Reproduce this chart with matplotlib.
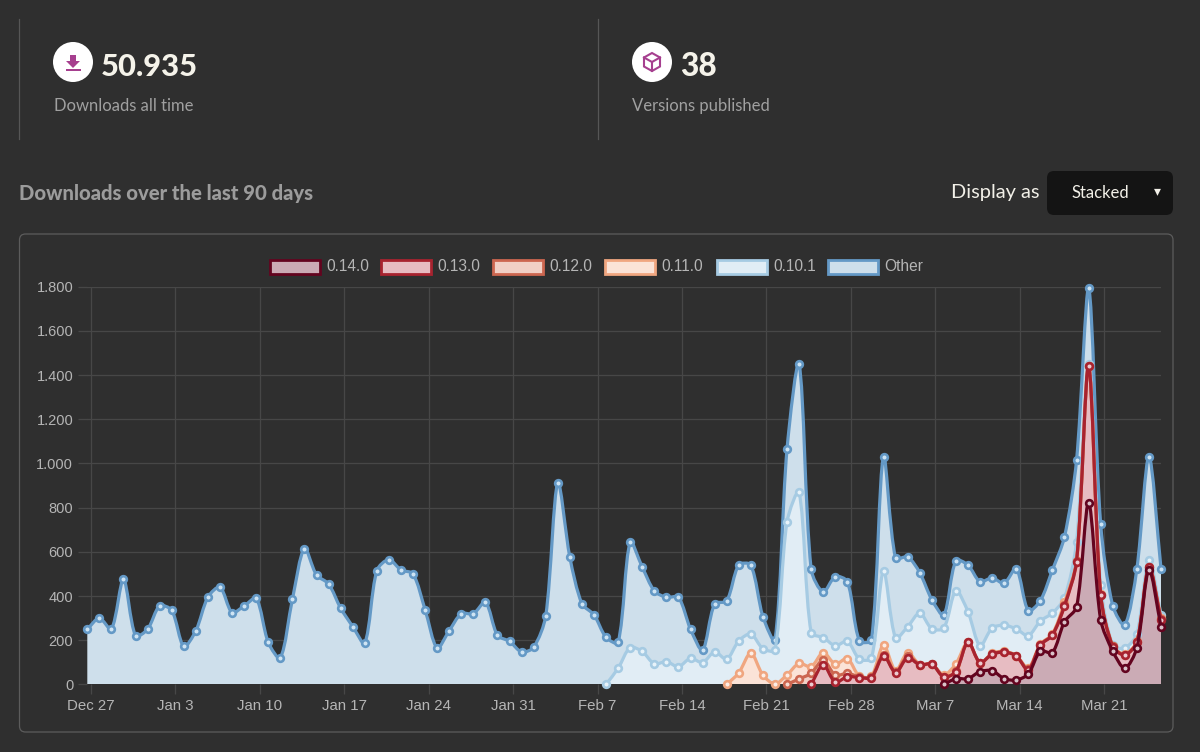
import numpy as np
import pandas as pd
import matplotlib
matplotlib.use('Agg')
import matplotlib.pyplot as plt
import matplotlib.dates as mdates
from matplotlib.path import Path
from matplotlib.patches import PathPatch, Rectangle, Circle, FancyBboxPatch, Polygon

nan = np.nan

# stacked levels, one list per version (nan = not published yet)
level_other = [250, 300, 250, 475, 220, 250, 355, 335, 172, 243, 395, 440, 325, 355, 390,
               190, 120, 385, 615, 495, 455, 345, 262, 187, 515, 565, 518, 500, 338, 165,
               243, 320, 320, 372, 222, 195, 147, 168, 310, 912, 575, 365, 315, 213, 190,
               644, 531, 423, 394, 394, 250, 155, 364, 378, 540, 540, 307, 201, 1065, 1450,
               522, 418, 488, 465, 198, 201, 1030, 571, 577, 506, 384, 314, 560, 540, 465,
               482, 458, 524, 334, 379, 518, 668, 1015, 1795, 725, 356, 269, 524, 1030, 524]
level_0101 = [nan] * 43 + [0, 73, 167, 149, 93, 103, 80, 118, 99, 147, 114, 197, 228, 162, 156,
                           736, 869, 234, 212, 175, 195, 115, 119, 512, 210, 261, 323, 252, 255,
                           424, 329, 175, 255, 268, 251, 221, 287, 323, 391, 646, 1450, 450, 178,
                           165, 228, 563, 315]
level_0110 = [nan] * 53 + [0, 52, 142, 42, 2, 43, 95, 80, 144, 92, 117, 37, 37, 178, 62, 144, 90,
                           92, 43, 93, 192, 98, 140, 150, 130, 75, 182, 228, 372, 560, 1440, 408,
                           175, 138, 195, 533, 300]
level_0120 = [nan] * 58 + [0, 25, 50, 110, 42, 50, 35, 35, 135, 55, 128, 90, 92, 35, 60, 192, 98,
                           138, 148, 130, 68, 180, 225, 360, 558, 1440, 406, 173, 135, 192, 531, 295]
level_0130 = [nan] * 60 + [0, 88, 10, 35, 31, 31, 129, 53, 121, 88, 92, 33, 58, 192, 98, 137, 146,
                           129, 65, 178, 223, 355, 556, 1440, 406, 171, 133, 192, 531, 292]
level_0140 = [nan] * 71 + [0, 26, 26, 58, 62, 26, 20, 47, 151, 144, 284, 350, 821, 292, 151, 73,
                           166, 518, 261]

versions = ['0.14.0', '0.13.0', '0.12.0', '0.11.0', '0.10.1', 'Other']
levels = [level_0140, level_0130, level_0120, level_0110, level_0101, level_other]
line_colors = ['#63041f', '#a8232f', '#cc6650', '#f0a680', '#a6cbe3', '#6499c6']
fill_colors = ['#cbabb5', '#e7bcc2', '#f1d0c6', '#fbe3d7', '#e1edf5', '#cedfeb']
dot_colors = ['#d9c3ca', '#ecccd1', '#f5dcd4', '#fdeee6', '#e8f3fa', '#cfe4f3']

y_ticks = list(range(0, 2000, 200))
y_labels = ['0', '200', '400', '600', '800', '1.000', '1.200', '1.400', '1.600', '1.800']
x_labels = ['Dec 27', 'Jan 3', 'Jan 10', 'Jan 17', 'Jan 24', 'Jan 31', 'Feb 7',
            'Feb 14', 'Feb 21', 'Feb 28', 'Mar 7', 'Mar 14', 'Mar 21']

BG = '#2f2f2f'
GRID = '#474747'
W, H = 1200, 752

dates = pd.date_range('2021-12-26 17:00', periods=90, freq='D')
x_num = mdates.date2num(dates)
x_ticks = mdates.date2num(pd.date_range('2021-12-27', periods=13, freq='7D'))

# px per unit, the spline needs them
PX_X = 12.06
PX_Y = 0.2211
TENSION = 0.3


def spline(x, y):
    # same kind of bezier the web chart uses
    n = len(x)
    px, py = x * PX_X, y * PX_Y
    verts = [(x[0], y[0])]
    codes = [Path.MOVETO]
    prev_c = np.zeros((n, 2))
    next_c = np.zeros((n, 2))
    for i in range(n):
        a = max(i - 1, 0)
        b = min(i + 1, n - 1)
        d01 = np.hypot(px[i] - px[a], py[i] - py[a])
        d12 = np.hypot(px[b] - px[i], py[b] - py[i])
        tot = d01 + d12
        s01 = d01 / tot if tot else 0
        s12 = d12 / tot if tot else 0
        dx, dy = x[b] - x[a], y[b] - y[a]
        prev_c[i] = x[i] - TENSION * s01 * dx, y[i] - TENSION * s01 * dy
        next_c[i] = x[i] + TENSION * s12 * dx, y[i] + TENSION * s12 * dy
    prev_c[:, 1] = np.clip(prev_c[:, 1], 0, 1800)
    next_c[:, 1] = np.clip(next_c[:, 1], 0, 1800)
    for i in range(n - 1):
        verts += [tuple(next_c[i]), tuple(prev_c[i + 1]), (x[i + 1], y[i + 1])]
        codes += [Path.CURVE4] * 3
    return verts, codes


fig = plt.figure(figsize=(W / 100, H / 100), dpi=100, facecolor=BG)

# page furniture, in pixels
page = fig.add_axes([0, 0, 1, 1])
page.set_xlim(0, W)
page.set_ylim(H, 0)
page.axis('off')

UI = 'Lato'
for vx in [19, 598]:
    page.plot([vx, vx], [19, 139], color='#565656', lw=0.9)

page.add_patch(Circle((73, 62), 20, fc='white', ec='none'))
page.add_patch(Polygon([(70, 55), (76, 55), (76, 61), (80, 61), (73, 68), (66, 61), (70, 61)],
                       fc='#a63f8f', ec='none'))
page.add_patch(Rectangle((65.5, 69), 15, 2.2, fc='#a63f8f', ec='none'))
page.text(100.5, 76, '50.935', family=UI, weight='black', size=22.2, color='#f5f3ea')
page.text(53.5, 111, 'Downloads all time', family=UI, size=12, color='#a0a0a0')

page.add_patch(Circle((652, 62), 20, fc='white', ec='none'))
cube = [(652, 53), (660, 57.5), (660, 66.5), (652, 71), (644, 66.5), (644, 57.5)]
page.add_patch(Polygon(cube, closed=True, fc='none', ec='#a63f8f', lw=1.5))
page.plot([644, 652, 660], [57.5, 62, 57.5], color='#a63f8f', lw=1.5)
page.plot([652, 652], [62, 71], color='#a63f8f', lw=1.5)
page.text(680, 76, '38', family=UI, weight='black', size=22.8, color='#f5f3ea')
page.text(632.5, 110.5, 'Versions published', family=UI, size=12, color='#a0a0a0')

page.text(19, 200, 'Downloads over the last 90 days', family=UI, weight='black', size=14.6,
          color='#9c9c9c')
page.text(951, 198, 'Display as', family=UI, size=14.4, color='#f2f0e8')
page.add_patch(FancyBboxPatch((1047, 171), 126, 44, boxstyle='round,pad=0,rounding_size=7',
                              fc='#141414', ec='none'))
page.text(1100, 193, 'Stacked', family=UI, size=12, color='#f2f0e8', ha='center', va='center')
page.text(1157, 191, '▾', family='DejaVu Sans', size=10, color='#f2f0e8', ha='center', va='center')

page.add_patch(FancyBboxPatch((19.5, 234), 1153.5, 498, boxstyle='round,pad=0,rounding_size=6',
                              fc='none', ec='#5c5c5c', lw=0.9))

# legend
box_x = [269, 380, 492, 604, 716, 827]
for name, bx, lc, fc in zip(versions, box_x, line_colors, fill_colors):
    page.add_patch(Rectangle((bx + 1, 259.5), 49.5, 14, fc=fc, ec=lc, lw=2))
    page.text(bx + 57.5, 266.5, name, family='Liberation Sans', size=11.2, color='#b5b5b5', va='center')

# chart area
ax = fig.add_axes([87.3 / W, 1 - 684.4 / H, (1161 - 87.3) / W, (684.4 - 286.7) / H])
ax.patch.set_alpha(0)
ax.set_xlim(x_num[0], x_num[-1])
ax.set_ylim(0, 1800)
for s in ax.spines.values():
    s.set_visible(False)
ax.set_axisbelow(True)
ax.grid(True, color=GRID, lw=0.9)
ax.set_xticks(x_ticks)
ax.set_xticklabels(x_labels)
ax.set_yticks(y_ticks)
ax.set_yticklabels(y_labels)
ax.tick_params(axis='x', length=7, width=0.9, color=GRID, pad=3.5, labelcolor='#b5b5b5')
ax.tick_params(axis='y', length=6.7, width=0.9, color=GRID, pad=3.5, labelcolor='#b5b5b5')
for lab in ax.get_xticklabels():
    lab.set_family('Liberation Sans')
    lab.set_fontsize(10.8)
for lab in ax.get_yticklabels():
    lab.set_family('Liberation Sans')
    lab.set_fontsize(10.5)

# bands, bottom version first
base = np.zeros(len(x_num))
for k, (lev, fc) in enumerate(zip(levels, fill_colors)):
    lev = np.array(lev, dtype=float)
    on = ~np.isnan(lev)
    top_v, top_c = spline(x_num[on], lev[on])
    low_v, low_c = spline(x_num[on], base[on])
    verts = top_v + [low_v[-1]] + low_v[::-1][1:] + [top_v[0]]
    codes = top_c + [Path.LINETO] + low_c[1:] + [Path.LINETO]
    ax.add_patch(PathPatch(Path(verts, codes), fc=fc, ec='none', zorder=2 + 0.01 * k))
    base = np.where(on, lev, base)

# lines and rings, first dataset ends up on top
for k in range(len(levels) - 1, -1, -1):
    lev = np.array(levels[k], dtype=float)
    on = ~np.isnan(lev)
    z = 3 + (len(levels) - k) * 0.1
    v, c = spline(x_num[on], lev[on])
    ax.add_patch(PathPatch(Path(v, c), fc='none', ec=line_colors[k], lw=2.3, zorder=z, clip_on=False))
    ax.plot(x_num[on], lev[on], ls='none', marker='o', ms=4.8, mew=1.9, mfc=dot_colors[k],
            mec=line_colors[k], zorder=z + 0.01, clip_on=False)

fig.savefig('out.png', dpi=100, facecolor=BG)
